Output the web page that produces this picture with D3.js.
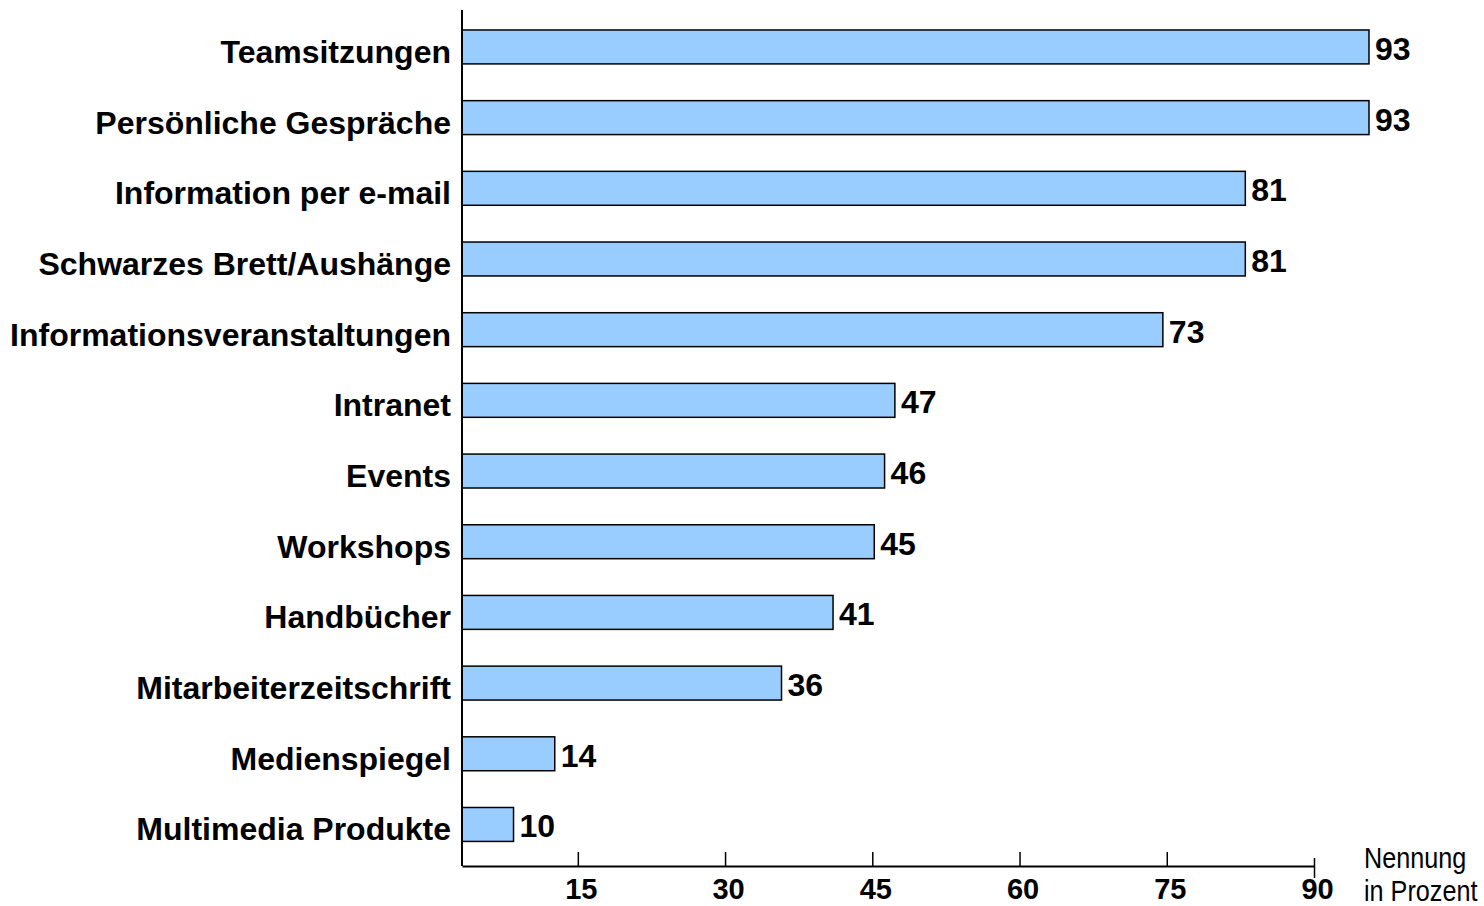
<!DOCTYPE html>
<html>
<head>
<meta charset="utf-8">
<script src="https://cdn.jsdelivr.net/npm/d3@7"></script>
<style>
body { margin: 0; background: #fff; }
svg { display: block; }
</style>
</head>
<body>
<svg id="chart" width="1484" height="906"></svg>
<script>
var categories = ["Teamsitzungen", "Persönliche Gespräche", "Information per e-mail",
	"Schwarzes Brett/Aushänge", "Informationsveranstaltungen", "Intranet", "Events",
	"Workshops", "Handbücher", "Mitarbeiterzeitschrift", "Medienspiegel", "Multimedia Produkte"];
var values = [93, 93, 81, 81, 73, 47, 46, 45, 41, 36, 14, 10];
var tickValues = [15, 30, 45, 60, 75, 90];
var unitLabel = ["Nennung", "in Prozent"];

var svg = d3.select("#chart");
var font = "'Liberation Sans', Arial, sans-serif";

var axisLeftX = 462;
var axisY = 866;

// bars and axis in the original do not share one scale
var x = d3.scaleLinear().domain([5, 93]).range([axisLeftX, 1369]);
var xAxis = d3.scaleLinear().domain([3.2, 90]).range([axisLeftX, 1314]);

var y = d3.scaleBand()
	.domain(categories)
	.range([11.6, 859.8])
	.paddingInner(0.52)
	.paddingOuter(0.26);

var data = categories.map(function(c, i) { return {name: c, value: values[i]}; });

// bars
svg.append("g")
	.selectAll("rect")
	.data(data)
	.enter().append("rect")
	.attr("x", axisLeftX)
	.attr("y", function(d) { return y(d.name); })
	.attr("width", function(d) { return x(d.value) - axisLeftX; })
	.attr("height", y.bandwidth())
	.attr("fill", "#99ccff")
	.attr("stroke", "#000")
	.attr("stroke-width", 1.5);

// category labels
svg.append("g")
	.selectAll("text")
	.data(data)
	.enter().append("text")
	.attr("x", 451)
	.attr("y", function(d) { return y(d.name) + y.bandwidth() / 2 + 5; })
	.attr("text-anchor", "end")
	.attr("dominant-baseline", "central")
	.attr("font-family", font)
	.attr("font-weight", "bold")
	.attr("font-size", 32)
	.text(function(d) { return d.name; });

// value labels
svg.append("g")
	.selectAll("text")
	.data(data)
	.enter().append("text")
	.attr("x", function(d) { return x(d.value) + 6; })
	.attr("y", function(d) { return y(d.name) + y.bandwidth() / 2 + 2; })
	.attr("dominant-baseline", "central")
	.attr("font-family", font)
	.attr("font-weight", "bold")
	.attr("font-size", 32)
	.text(function(d) { return d.value; });

// vertical axis line
svg.append("line")
	.attr("x1", axisLeftX).attr("x2", axisLeftX)
	.attr("y1", 10).attr("y2", axisY)
	.attr("stroke", "#000")
	.attr("stroke-width", 2);

// bottom axis
var gx = svg.append("g")
	.attr("transform", "translate(0," + axisY + ")")
	.call(d3.axisBottom(xAxis)
		.tickValues(tickValues)
		.tickSizeInner(-14)
		.tickSizeOuter(0)
		.tickPadding(0));

gx.select(".domain").attr("stroke-width", 2);
gx.selectAll(".tick line").attr("stroke-width", 1.5);
gx.selectAll(".tick line").filter(function(d) { return d == 90; })
	.attr("y1", -8).attr("y2", 12);
gx.selectAll(".tick text")
	.attr("y", 0)
	.attr("dy", 33)
	.attr("dx", 3)
	.attr("fill", "#000")
	.attr("font-family", font)
	.attr("font-weight", "bold")
	.attr("font-size", 29);

// unit label, condensed like a narrow face
svg.append("g")
	.attr("transform", "translate(1364,0) scale(0.84,1)")
	.selectAll("text")
	.data(unitLabel)
	.enter().append("text")
	.attr("x", 0)
	.attr("y", function(d, i) { return 868 + i * 33; })
	.attr("font-family", font)
	.attr("font-size", 30)
	.text(function(d) { return d; });
</script>
</body>
</html>
